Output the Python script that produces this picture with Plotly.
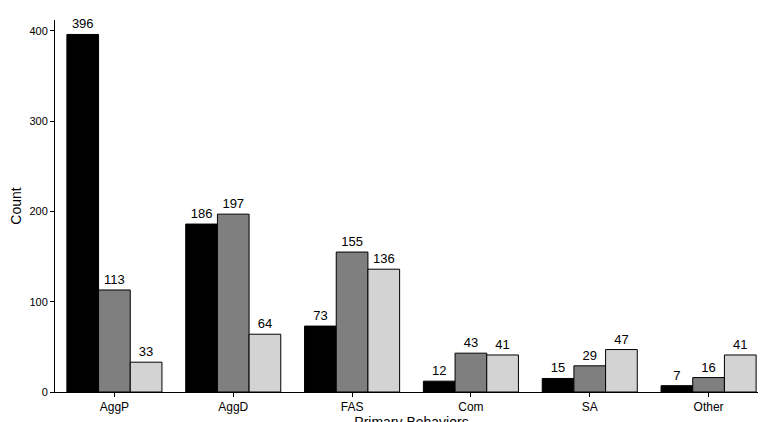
import plotly.graph_objects as go

categories = ["AggP", "AggD", "FAS", "Com", "SA", "Other"]
series_a = [396, 186, 73, 12, 15, 7]
series_b = [113, 197, 155, 43, 29, 16]
series_c = [33, 64, 136, 41, 47, 41]

colors = ["#000000", "#7f7f7f", "#d3d3d3"]

fig = go.Figure()
for vals, col in zip([series_a, series_b, series_c], colors):
    fig.add_trace(go.Bar(
        x=categories, y=vals, marker=dict(color=col, line=dict(color="black", width=1)),
        text=vals, textposition="outside", cliponaxis=False,
        textfont=dict(size=13, color="black"),
    ))

fig.update_layout(
    width=766, height=422, barmode="group", bargap=0.2, bargroupgap=0,
    showlegend=False, plot_bgcolor="white", paper_bgcolor="white",
    margin=dict(l=45, r=6, t=12, b=38),
    font=dict(family="Liberation Sans, Arial", size=12, color="black"),
)
fig.update_xaxes(title=dict(text="Primary Behaviors", standoff=0), showline=True, linecolor="black",
                 ticks="outside", ticklen=4, tickcolor="black")
fig.update_yaxes(title=dict(text="Count", standoff=6), range=[0, 412], showline=True, linecolor="black",
                 ticks="outside", ticklen=4, tickcolor="black", showgrid=False, zeroline=False,
                 tickvals=[0, 100, 200, 300, 400], tickfont=dict(size=11))
fig.write_html("out.html")
